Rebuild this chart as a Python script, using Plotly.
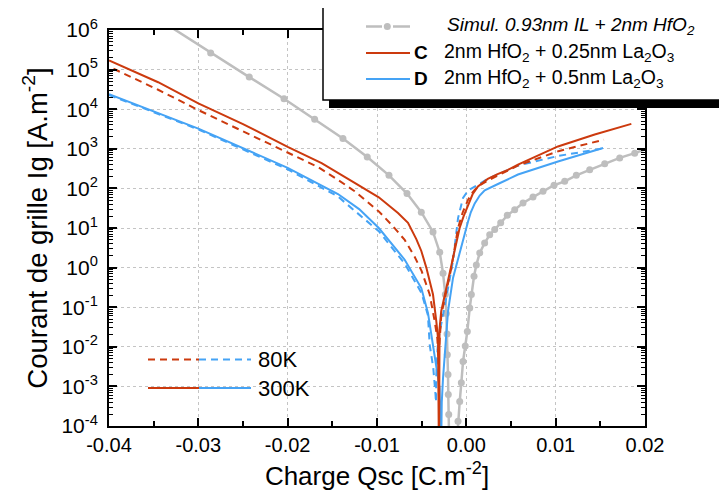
import plotly.graph_objects as go

# ---------------- data ----------------
x_ticks = [-0.04, -0.03, -0.02, -0.01, 0.00, 0.01, 0.02]
x_ticktext = ["-0.04", "-0.03", "-0.02", "-0.01", "0.00", "0.01", "0.02"]
y_ticks = [1e-4, 1e-3, 1e-2, 1e-1, 1e0, 1e1, 1e2, 1e3, 1e4, 1e5, 1e6]
y_ticktext = ["10<sup>-4</sup>", "10<sup>-3</sup>", "10<sup>-2</sup>", "10<sup>-1</sup>",
              "10<sup>0</sup>", "10<sup>1</sup>", "10<sup>2</sup>", "10<sup>3</sup>",
              "10<sup>4</sup>", "10<sup>5</sup>", "10<sup>6</sup>"]

sim_x = [-0.0345, -0.02862, -0.02430, -0.02041, -0.01698, -0.01381, -0.01109, -0.00866,
         -0.00664, -0.00504, -0.00373, -0.00298, -0.00261, -0.00235, -0.00224, -0.00216,
         -0.00213, -0.00205, -0.00202, -0.00197, -0.00193, -0.00105, -0.00093, -0.00074,
         -0.00056, -0.00037, -0.00012, 0.00011, 0.00038, 0.00056, 0.00086, 0.00112,
         0.00150, 0.00205, 0.002616, 0.003176, 0.003847, 0.004586, 0.005414, 0.006344,
         0.007463, 0.008583, 0.009814, 0.011012, 0.012311, 0.013810, 0.015490, 0.017168,
         0.018847, 0.0205]
sim_y = [1.9e6, 2.63e5, 6.46e4, 1.84e4, 5.56e3, 1.82e3, 617, 214, 74, 25.1, 7.94, 2.45,
         0.724, 0.209, 0.0692, 0.0209, 6.3e-3, 2.0e-3, 6.2e-4, 1.95e-4, 5e-5, 4e-5,
         1.32e-4, 4.17e-4, 1.23e-3, 4.27e-3, 0.0105, 0.0245, 0.0955, 0.209, 0.603, 1.17,
         2.34, 4.17, 6.76, 9.12, 13.5, 20.9, 28.8, 42.7, 60.3, 85.1, 120, 151, 214, 295,
         417, 589, 776, 1070]

c300_x = [-0.0400, -0.0345, -0.0300, -0.0250, -0.0200, -0.0162, -0.0125, -0.0098, -0.00765,
          -0.00653, -0.0056, -0.00504, -0.00448, -0.00373, -0.00336, -0.00317, -0.00306,
          -0.00300, -0.00281, -0.00225, -0.00169, -0.00113, -0.00075, -0.0003, 0.0002,
          0.0007, 0.0013, 0.0024, 0.0035, 0.00466, 0.00578, 0.01026, 0.01437, 0.01847]
c300_y = [1.7e5, 4.8e4, 1.41e4, 4.2e3, 1.12e3, 436, 138, 59.6, 24, 13.5, 5.25, 2.63, 1.0,
          0.209, 0.0437, 0.0166, 1e-5, 0.0282, 0.0794, 0.302, 0.977, 3.8, 10, 20, 38, 71,
          112, 174, 229, 295, 398, 1148, 2291, 4266]

c80_x = [-0.0395, -0.0345, -0.0300, -0.0250, -0.0200, -0.0166, -0.0144, -0.0125, -0.0098,
         -0.0082, -0.0069, -0.0058, -0.0050, -0.00448, -0.0041, -0.00354, -0.00325,
         -0.00312, -0.00300, -0.00280, -0.00224, -0.00168, -0.00093, -0.0004, 0.0002,
         0.0007, 0.0013, 0.0024, 0.0058, 0.0103, 0.0154]
c80_y = [1.05e5, 3.1e4, 9.5e3, 2.75e3, 794, 347, 166, 85, 26.3, 11, 5.0, 1.9, 0.813,
         0.372, 0.209, 0.0437, 0.0166, 0.005, 0.0178, 0.0646, 0.251, 0.977, 10, 25, 52,
         79, 112, 158, 380, 871, 1700]

d300_x = [-0.0400, -0.0300, -0.0200, -0.01437, -0.0120, -0.0098, -0.0069, -0.00504,
          -0.00429, -0.00373, -0.00336, -0.00299, -0.00285, -0.00275, -0.00261, -0.00235,
          -0.00205, -0.00149, -0.00093, 0.0000, 0.0002, 0.0005, 0.00094, 0.0015, 0.00206,
          0.0030, 0.00354, 0.00578, 0.01026, 0.0153]
d300_y = [2.4e4, 3.24e3, 331, 72, 30, 10, 1.58, 0.305, 0.0708, 0.0112, 2.9e-3, 9.1e-4,
          1e-5, 4e-4, 1.6e-3, 0.0112, 0.0794, 0.55, 1.74, 10, 14.8, 25, 41.7, 66, 89,
          115, 129, 224, 479, 1047]

d80_x = [-0.0400, -0.0300, -0.0200, -0.0144, -0.0098, -0.0069, -0.0050, -0.0043, -0.0041,
         -0.0037, -0.00345, -0.0034, -0.00336, -0.00317, -0.0023, -0.00149, -0.00093,
         -0.00037, 0.0002, 0.0024, 0.0058, 0.0103, 0.0151]
d80_y = [2.29e4, 3.09e3, 302, 63, 8.3, 1.26, 0.224, 0.063, 0.0112, 2.9e-3, 6.3e-4, 4e-4,
         2e-3, 0.0141, 0.15, 1.48, 17.8, 57.5, 89, 174, 380, 661, 1000]

legend_labels = ["<i>Simul. 0.93nm IL + 2nm HfO<sub>2</sub></i>",
                 "2nm HfO<sub>2</sub> + 0.25nm La<sub>2</sub>O<sub>3</sub>",
                 "2nm HfO<sub>2</sub> + 0.5nm La<sub>2</sub>O<sub>3</sub>"]
legend_letters = ["C", "D"]
temp_labels = ["80K", "300K"]

# ---------------- style ----------------
GRAY = "#BEBEBE"
RED = "#CC3A0E"
BLUE = "#45A3F5"
FONT = "Arial, Liberation Sans, sans-serif"
DASH = "7px,5px"

fig = go.Figure()
fig.add_trace(go.Scatter(x=sim_x, y=sim_y, mode="lines+markers",
                         line=dict(color=GRAY, width=2.5),
                         marker=dict(color=GRAY, size=7), showlegend=False))
fig.add_trace(go.Scatter(x=d80_x, y=d80_y, mode="lines",
                         line=dict(color=BLUE, width=2, dash=DASH), showlegend=False))
fig.add_trace(go.Scatter(x=d300_x, y=d300_y, mode="lines",
                         line=dict(color=BLUE, width=2), showlegend=False))
fig.add_trace(go.Scatter(x=c80_x, y=c80_y, mode="lines",
                         line=dict(color=RED, width=2, dash=DASH), showlegend=False))
fig.add_trace(go.Scatter(x=c300_x, y=c300_y, mode="lines",
                         line=dict(color=RED, width=2), showlegend=False))

W, H = 727, 502
L, R, T, B = 101, 90, 22, 84
pw, ph = W - L - R, H - T - B


def px(xp):
    return (xp - L) / pw


def py(yp):
    return (H - B - yp) / ph


shapes = []
annotations = []

# top-right legend box with shadow
shapes.append(dict(type="rect", xref="paper", yref="paper", x0=px(321), x1=px(760),
                   y0=py(100), y1=py(85), fillcolor="black", line=dict(width=0), layer="above"))
shapes.append(dict(type="rect", xref="paper", yref="paper", x0=px(315), x1=px(760),
                   y0=py(92), y1=py(-10), fillcolor="white",
                   line=dict(color="black", width=1.5), layer="above"))
# gray sample
shapes.append(dict(type="line", xref="paper", yref="paper", x0=px(358), x1=px(374),
                   y0=py(18.5), y1=py(18.5), line=dict(color=GRAY, width=2.5), layer="above"))
shapes.append(dict(type="line", xref="paper", yref="paper", x0=px(385), x1=px(402),
                   y0=py(18.5), y1=py(18.5), line=dict(color=GRAY, width=2.5), layer="above"))
shapes.append(dict(type="circle", xref="paper", yref="paper", x0=px(375.8), x1=px(382.8),
                   y0=py(22), y1=py(15), fillcolor=GRAY, line=dict(width=0), layer="above"))
# red / blue samples
shapes.append(dict(type="line", xref="paper", yref="paper", x0=px(358), x1=px(402),
                   y0=py(45), y1=py(45), line=dict(color=RED, width=2), layer="above"))
shapes.append(dict(type="line", xref="paper", yref="paper", x0=px(358), x1=px(402),
                   y0=py(71), y1=py(71), line=dict(color=BLUE, width=2), layer="above"))

leg_y = [18.5, 45, 71]
annotations.append(dict(xref="paper", yref="paper", x=px(437), y=py(leg_y[0]),
                        xanchor="left", yanchor="middle", showarrow=False,
                        text=legend_labels[0], font=dict(family=FONT, size=19, color="black")))
for i in range(2):
    annotations.append(dict(xref="paper", yref="paper", x=px(404), y=py(leg_y[i + 1]),
                            xanchor="left", yanchor="middle", showarrow=False,
                            text="<b>" + legend_letters[i] + "</b>",
                            font=dict(family=FONT, size=19, color="black")))
    annotations.append(dict(xref="paper", yref="paper", x=px(434), y=py(leg_y[i + 1]),
                            xanchor="left", yanchor="middle", showarrow=False,
                            text=legend_labels[i + 1],
                            font=dict(family=FONT, size=19.5, color="black")))

# bottom-left temperature legend
for yy, d in [(351.5, DASH), (380, None)]:
    shapes.append(dict(type="line", xref="paper", yref="paper", x0=px(140), x1=px(191),
                       y0=py(yy), y1=py(yy),
                       line=dict(color=RED, width=2, dash=d if d else "solid")))
    shapes.append(dict(type="line", xref="paper", yref="paper", x0=px(191), x1=px(243),
                       y0=py(yy), y1=py(yy),
                       line=dict(color=BLUE, width=2, dash=d if d else "solid")))
for yy, t in zip([351.5, 380], temp_labels):
    annotations.append(dict(xref="paper", yref="paper", x=px(248), y=py(yy),
                            xanchor="left", yanchor="middle", showarrow=False,
                            text=t, font=dict(family=FONT, size=22, color="black")))

axis_common = dict(showline=True, linecolor="black", linewidth=2, mirror="allticks",
                   ticks="inside", ticklen=8, tickwidth=1.5, tickcolor="black",
                   showgrid=True, gridcolor="#C4C4C4", gridwidth=1, griddash="dot",
                   zeroline=False, automargin=False)

fig.update_xaxes(range=[-0.04, 0.02], tickvals=x_ticks, ticktext=x_ticktext,
                 tickfont=dict(family=FONT, size=20, color="black"),
                 minor=dict(dtick=0.005, tick0=0, ticks="inside", ticklen=5,
                            tickwidth=1.5, tickcolor="black", showgrid=False),
                 title=dict(text="Charge Qsc [C.m<sup>-2</sup>]",
                            font=dict(family=FONT, size=26, color="black"), standoff=12),
                 ticklabelstandoff=0,
                 **axis_common)
fig.update_yaxes(type="log", range=[-4, 6], tickvals=y_ticks, ticktext=y_ticktext,
                 tickfont=dict(family=FONT, size=21, color="black"),
                 minor=dict(dtick="D1", ticks="inside", ticklen=4, tickwidth=1,
                            tickcolor="black", showgrid=False),
                 title=dict(text="Courant de grille Ig [A.m<sup>-2</sup>]",
                            font=dict(family=FONT, size=27.5, color="black"), standoff=6),
                 ticklabelstandoff=5,
                 **axis_common)

fig.update_layout(width=W, height=H, autosize=False,
                  margin=dict(l=L, r=R, t=T, b=B, pad=0),
                  paper_bgcolor="white", plot_bgcolor="white",
                  shapes=shapes, annotations=annotations, showlegend=False)

fig.write_html("out.html")
